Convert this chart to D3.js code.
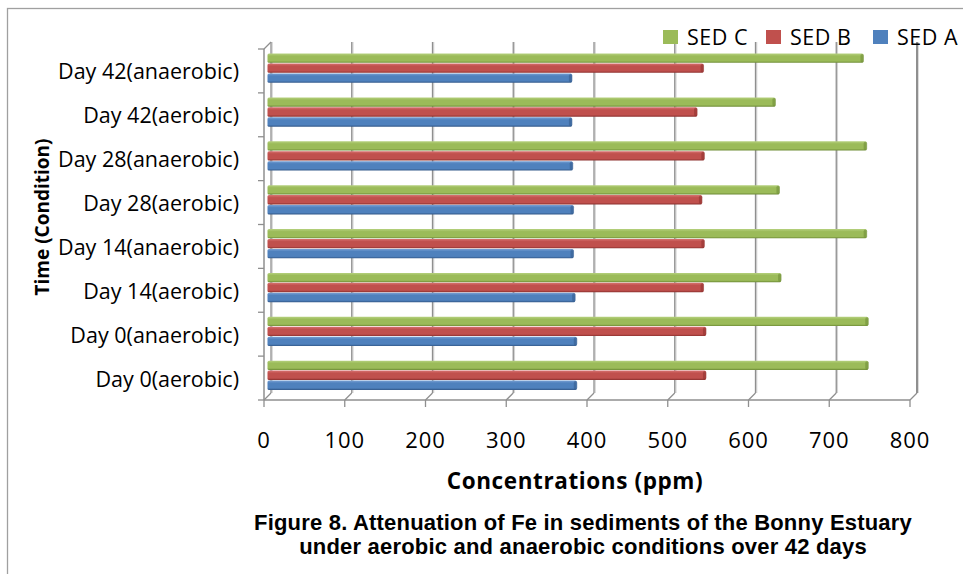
<!DOCTYPE html>
<html>
<head>
<meta charset="utf-8">
<script src="https://cdn.jsdelivr.net/npm/d3@7"></script>
<style>
  html, body { margin: 0; padding: 0; background: #fff; }
  svg { display: block; }
</style>
</head>
<body>
<svg id="chart" width="963" height="574"></svg>
<script>
// ---------- data ----------
const categories = [
  "Day 0(aerobic)", "Day 0(anaerobic)",
  "Day 14(aerobic)", "Day 14(anaerobic)",
  "Day 28(aerobic)", "Day 28(anaerobic)",
  "Day 42(aerobic)", "Day 42(anaerobic)"
];
const seriesNames = ["SED C", "SED B", "SED A"];
const sedA = [383, 383, 381, 379, 379, 378, 377, 377];
const sedB = [543, 543, 540, 541, 538, 541, 532, 540];
const sedC = [744, 744, 636, 742, 634, 742, 629, 738];
const xTicks = [0, 100, 200, 300, 400, 500, 600, 700, 800];
const xTitle = "Concentrations (ppm)";
const yTitle = "Time (Condition)";
const titleLines = [
  "Figure 8. Attenuation of Fe in sediments of the Bonny Estuary",
  "under aerobic and anaerobic conditions over 42 days"
];

const seriesValues = { "SED A": sedA, "SED B": sedB, "SED C": sedC };
const seriesColors = {
  "SED C": ["#b6d17f", "#9bbb59", "#6c8a34"],
  "SED B": ["#d77270", "#c0504d", "#8c302e"],
  "SED A": ["#78a0d4", "#4f81bd", "#33598a"]
};

// ---------- layout ----------
const svg = d3.select("#chart");
const W = 963, H = 574;
const dx = 7, dy = -7;              // depth offset front -> back
const plotTop = 49, plotBottom = 400;

const x = d3.scaleLinear().domain([0, 800]).range([264, 910]);
const y = d3.scaleBand()
  .domain(categories.slice().reverse())
  .range([plotTop, plotBottom])
  .paddingInner(0.32).paddingOuter(0.16);
const ySer = d3.scaleBand().domain(seriesNames).range([0, y.bandwidth()]).paddingInner(0.0);
const step = y.step();

// background + border
svg.append("rect").attr("width", W).attr("height", H).attr("fill", "#fff");
svg.append("rect").attr("x", 7.5).attr("y", 8.5).attr("width", W + 20).attr("height", H + 20)
  .attr("fill", "none").attr("stroke", "#a0a0a0").attr("stroke-width", 1.3);

// gradients
const defs = svg.append("defs");
seriesNames.forEach((s, i) => {
  const g = defs.append("linearGradient").attr("id", "grad" + i)
    .attr("x1", 0).attr("y1", 0).attr("x2", 0).attr("y2", 1);
  const c = seriesColors[s];
  g.append("stop").attr("offset", "0%").attr("stop-color", c[0]);
  g.append("stop").attr("offset", "28%").attr("stop-color", c[1]);
  g.append("stop").attr("offset", "80%").attr("stop-color", c[1]);
  g.append("stop").attr("offset", "100%").attr("stop-color", c[2]);
});

const gridColor = "#8f8f8f";
const grid = svg.append("g");
xTicks.forEach(v => {
  const xf = x(v), xb = x(v) + dx;
  grid.append("line").attr("x1", xb + 1.2).attr("x2", xb + 1.2)
    .attr("y1", plotTop + dy).attr("y2", plotBottom + dy)
    .attr("stroke", "#d4d4d4").attr("stroke-width", 1.2);
  grid.append("line").attr("x1", xb).attr("x2", xb)
    .attr("y1", plotTop + dy).attr("y2", plotBottom + dy)
    .attr("stroke", gridColor).attr("stroke-width", v === 800 ? 2 : 1.3);
  grid.append("line").attr("x1", xb).attr("y1", plotBottom + dy)
    .attr("x2", xf).attr("y2", plotBottom)
    .attr("stroke", gridColor).attr("stroke-width", 1.3);
  grid.append("line").attr("x1", xf).attr("x2", xf)
    .attr("y1", plotBottom).attr("y2", plotBottom + 7)
    .attr("stroke", gridColor).attr("stroke-width", 1.3);
});
grid.append("line").attr("x1", x(0)).attr("x2", x(800))
  .attr("y1", plotBottom).attr("y2", plotBottom)
  .attr("stroke", gridColor).attr("stroke-width", 1.5);
grid.append("line").attr("x1", x(0)).attr("x2", x(0))
  .attr("y1", plotTop).attr("y2", plotBottom)
  .attr("stroke", gridColor).attr("stroke-width", 1.5);
grid.append("line").attr("x1", x(0)).attr("y1", plotTop)
  .attr("x2", x(0) + dx).attr("y2", plotTop + dy)
  .attr("stroke", gridColor).attr("stroke-width", 1.3);
d3.range(categories.length + 1).forEach(i => {
  const yy = plotTop + i * step;
  grid.append("line").attr("x1", x(0) - 6).attr("x2", x(0))
    .attr("y1", yy).attr("y2", yy)
    .attr("stroke", gridColor).attr("stroke-width", 1.3);
});

// bars (drawn mid-depth)
const bx = dx / 2, by = dy / 2 + 1;
const bars = svg.append("g");
categories.forEach((cat, ci) => {
  seriesNames.forEach((s, si) => {
    const v = seriesValues[s][ci];
    const y0 = y(cat) + ySer(s) + by;
    const h = ySer.bandwidth() - 0.6;
    const x0 = x(0) + bx, x1 = x(v) + bx;
    bars.append("rect")
      .attr("x", x0).attr("y", y0).attr("width", x1 - x0).attr("height", h)
      .attr("rx", 1.5)
      .attr("fill", `url(#grad${si})`);
    bars.append("rect")
      .attr("x", x1 - 3).attr("y", y0 + 0.5).attr("width", 3.5).attr("height", h - 1)
      .attr("rx", 1.7)
      .attr("fill", seriesColors[s][2]).attr("opacity", 0.55);
  });
});

// category labels
svg.append("g").selectAll("text").data(categories).join("text")
  .attr("x", 239).attr("y", d => y(d) + y.bandwidth() / 2 + 1)
  .attr("dy", "0.35em").attr("text-anchor", "end")
  .attr("font-family", "'Open Sans', sans-serif").attr("font-size", 21.5)
  .attr("fill", "#000").text(d => d);

// x tick labels
svg.append("g").selectAll("text").data(xTicks).join("text")
  .attr("x", d => x(d)).attr("y", 440).attr("dy", "0.35em")
  .attr("text-anchor", "middle")
  .attr("font-family", "'Open Sans', sans-serif").attr("font-size", 22)
  .attr("letter-spacing", 1)
  .attr("fill", "#000").text(d => d);

// axis titles
svg.append("text").attr("x", 575).attr("y", 481).attr("dy", "0.35em")
  .attr("text-anchor", "middle")
  .attr("font-family", "'Open Sans', sans-serif").attr("font-weight", "bold")
  .attr("font-size", 22.5).attr("letter-spacing", 0.6)
  .attr("fill", "#000").text(xTitle);
svg.append("text")
  .attr("transform", "translate(42,217) rotate(-90)")
  .attr("dy", "0.35em").attr("text-anchor", "middle")
  .attr("font-family", "'Open Sans', sans-serif").attr("font-weight", "bold")
  .attr("font-size", 19).attr("fill", "#000").text(yTitle);

// figure caption
svg.append("g").selectAll("text").data(titleLines).join("text")
  .attr("x", 583).attr("y", (d, i) => 530 + i * 24)
  .attr("text-anchor", "middle")
  .attr("font-family", "'Liberation Sans', Arial, sans-serif").attr("font-weight", "bold")
  .attr("font-size", 22).attr("letter-spacing", 0.2)
  .attr("fill", "#000").text(d => d);

// legend (SED C, SED B, SED A left to right)
const legendX = [663, 766, 873];
const legend = svg.append("g").attr("transform", "translate(0,30)");
seriesNames.forEach((s, i) => {
  const g = legend.append("g").attr("transform", `translate(${legendX[i]},0)`);
  g.append("rect").attr("width", 15).attr("height", 14).attr("fill", seriesColors[s][1]);
  g.append("text").attr("x", 24).attr("y", 7).attr("dy", "0.35em")
    .attr("font-family", "'Open Sans', sans-serif").attr("font-size", 21.5)
    .attr("letter-spacing", 0.5)
    .attr("fill", "#000").text(s);
});
</script>
</body>
</html>
